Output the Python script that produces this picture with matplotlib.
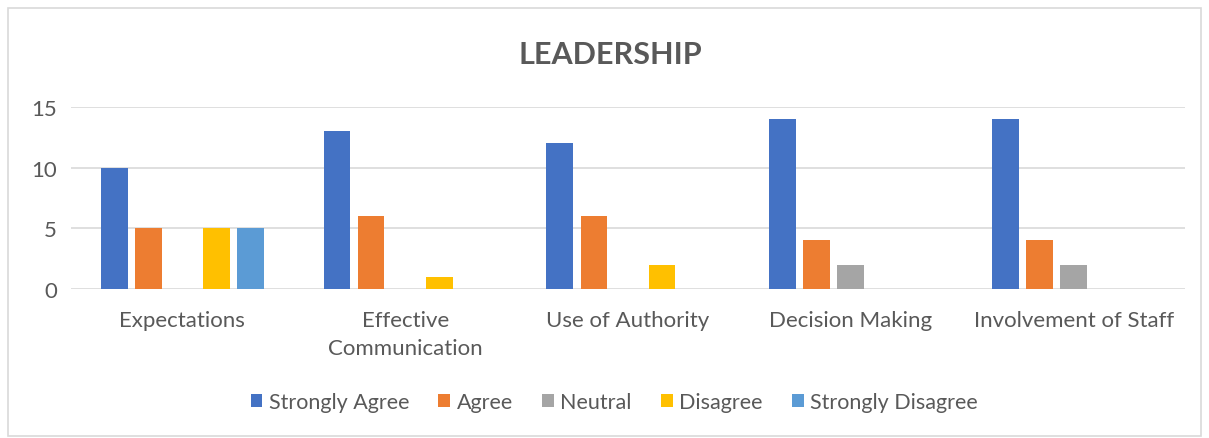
import matplotlib.pyplot as plt
import matplotlib.patches as mpatches
import numpy as np

categories = ["Expectations", "Effective\nCommunication", "Use of Authority",
              "Decision Making", "Involvement of Staff"]
series = ["Strongly Agree", "Agree", "Neutral", "Disagree", "Strongly Disagree"]
strongly_agree = [10, 13, 12, 14, 14]
agree = [5, 6, 6, 4, 4]
neutral = [0, 0, 0, 2, 2]
disagree = [5, 1, 2, 0, 0]
strongly_disagree = [5, 0, 0, 0, 0]
colors = ["#4472C4", "#ED7D31", "#A5A5A5", "#FFC000", "#5B9BD5"]

plt.rcParams['font.family'] = ['Lato', 'DejaVu Sans']
text_color = '#595959'

fig = plt.figure(figsize=(12.09, 4.39), dpi=100)
ax = fig.add_axes([71 / 1209, 1 - 290 / 439, (1185 - 71) / 1209, (290 - 108) / 439])

# chart border
fig.patches.append(mpatches.Rectangle((8 / 1209, 2 / 439), 1193 / 1209, 428 / 439,
                                      transform=fig.transFigure, fill=False,
                                      edgecolor='#D9D9D9', linewidth=1.2))

x = np.arange(len(categories))
step = 0.153
width = 0.12
all_values = [strongly_agree, agree, neutral, disagree, strongly_disagree]
for i, (vals, name, c) in enumerate(zip(all_values, series, colors)):
    ax.bar(x + (i - 2) * step, vals, width, color=c, label=name, linewidth=0, zorder=3)

ax.set_xlim(-0.5, len(categories) - 0.5)
ax.set_ylim(0, 15)
ax.set_yticks([0, 5, 10, 15])
ax.yaxis.grid(True, color='#D9D9D9', linewidth=1.2, zorder=0)
ax.set_axisbelow(True)
for s in ax.spines.values():
    s.set_visible(False)
ax.tick_params(axis='both', length=0, labelsize=16, colors=text_color)
ax.tick_params(axis='y', pad=10)
ax.tick_params(axis='x', pad=15)
ax.set_xticks(x)
ax.set_xticklabels(categories, linespacing=1.5)

fig.text(0.505, 1 - 55 / 439, "LEADERSHIP", ha='center', va='center',
         fontsize=22, fontweight='bold', color=text_color)

fig.legend(loc='center', bbox_to_anchor=(0.508, 1 - 403 / 439), ncol=5, frameon=False,
           fontsize=15.5, labelcolor=text_color, handlelength=0.55, handleheight=0.55,
           handletextpad=0.3, columnspacing=1.35)

fig.savefig("out.png", dpi=100)
